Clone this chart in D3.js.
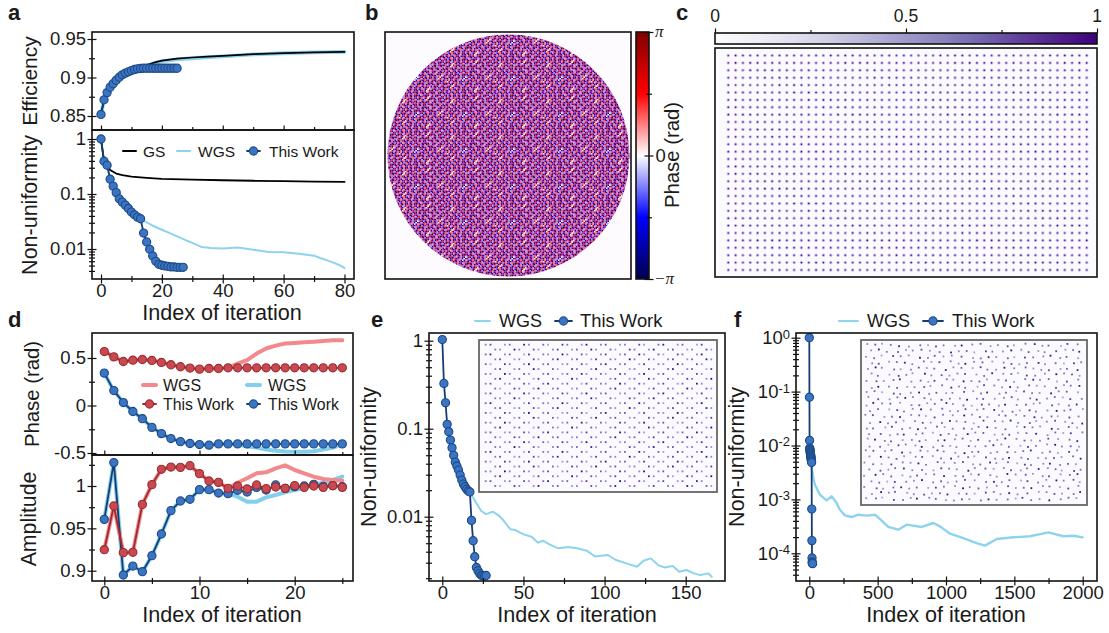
<!DOCTYPE html>
<html>
<head>
<meta charset="utf-8">
<script src="https://cdn.jsdelivr.net/npm/d3@7"></script>
<style>
  html, body { margin: 0; padding: 0; background: #fff; }
  svg { display: block; }
  text { font-family: "Liberation Sans", Arial, sans-serif; fill: #1a1a1a; }
</style>
</head>
<body>
<div id="chart"></div>
<script>
// ---- data ----
// a: efficiency
var aEffIter = [0,1,2,3,4,5,6,7,8,9,10,11,12,13,14,15,16,17,18,19,20,21,22,23,24,25];
var aEffWork = [0.852,0.871,0.8804,0.8874,0.892,0.8965,0.9004,0.9035,0.9057,0.9074,0.909,0.9104,0.9113,0.9117,0.912,0.912,0.912,0.912,0.912,0.912,0.912,0.912,0.912,0.912,0.912,0.912];
var aEffLongIter = [0,1,2,3,4,5,6,7,8,9,10,12,14,16,18,20,25,30,35,40,50,60,70,80];
var aEffGs = [0.852,0.871,0.8804,0.8874,0.892,0.8965,0.9004,0.9035,0.9057,0.9074,0.909,0.9122,0.9145,0.9175,0.92,0.922,0.9245,0.926,0.9272,0.9282,0.9304,0.9317,0.9326,0.9332];
var aEffWgs = [0.852,0.871,0.8804,0.8874,0.892,0.8965,0.9004,0.9035,0.9057,0.9074,0.909,0.9118,0.9138,0.9165,0.919,0.921,0.9235,0.925,0.9263,0.9275,0.93,0.9315,0.9326,0.9334];
// a: non-uniformity
var aNonIter = d3.range(28);
var aNonWork = [1,0.394,0.333,0.186,0.139,0.106,0.0817,0.0711,0.0628,0.0546,0.0469,0.0419,0.038,0.0355,0.0195,0.0134,0.00986,0.00746,0.00597,0.00527,0.00506,0.00492,0.00485,0.00472,0.00472,0.00465,0.00465,0.00465];
var aGsIter = [0,1,2,3,5,7,10,15,20,30,40,50,60,70,80];
var aGsVal = [1,0.394,0.333,0.274,0.235,0.22,0.207,0.196,0.188,0.183,0.178,0.174,0.171,0.168,0.166];
var aWgsIter = [0,1,2,3,4,5,6,7,8,9,10,11,12,13,15,17,20,23,25,28,30,33,36,40,45,50,55,60,65,70,72,75,78,80];
var aWgsVal = [1,0.394,0.333,0.186,0.139,0.106,0.0817,0.0711,0.0628,0.0546,0.0469,0.0419,0.038,0.0355,0.0304,0.0265,0.0224,0.019,0.017,0.0143,0.0129,0.0109,0.0104,0.0102,0.0106,0.0097,0.00883,0.0087,0.0082,0.00757,0.00687,0.00601,0.0052,0.00453];

// d: phase and amplitude, one value per iteration 0..25
var dIter = d3.range(26);
var dPhaseRedWork = [0.568,0.512,0.463,0.477,0.484,0.474,0.453,0.429,0.408,0.394,0.383,0.39,0.39,0.397,0.397,0.397,0.397,0.397,0.397,0.397,0.397,0.397,0.397,0.397,0.397,0.397];
var dPhaseRedWgs = [0.568,0.512,0.463,0.477,0.484,0.474,0.453,0.429,0.408,0.394,0.383,0.39,0.39,0.397,0.44,0.478,0.547,0.6,0.63,0.652,0.659,0.665,0.672,0.679,0.686,0.686];
var dPhaseBlueWork = [0.341,0.157,0.031,-0.063,-0.139,-0.23,-0.296,-0.348,-0.38,-0.4,-0.411,-0.418,-0.404,-0.404,-0.404,-0.404,-0.404,-0.404,-0.404,-0.404,-0.404,-0.404,-0.404,-0.404,-0.404,-0.404];
var dPhaseBlueWgs = [0.341,0.157,0.031,-0.063,-0.139,-0.23,-0.296,-0.348,-0.38,-0.4,-0.411,-0.418,-0.404,-0.404,-0.411,-0.429,-0.443,-0.463,-0.477,-0.484,-0.488,-0.488,-0.481,-0.463,-0.443,-0.408];
var dAmpBlueWork = [0.9606,1.0276,0.8949,0.9055,0.8988,0.9177,0.9433,0.9709,0.9823,0.9843,0.9957,0.9957,0.9917,0.9909,0.9949,0.9929,0.9984,0.9953,1.0012,0.9972,0.9992,1,1.002,0.9996,1.0004,0.9992];
var dAmpBlueWgs = [0.9606,1.0276,0.8949,0.9055,0.8988,0.9177,0.9433,0.9709,0.9823,0.9843,0.9957,0.9957,0.9917,0.9909,0.9874,0.9815,0.9815,0.9866,0.9894,0.9925,0.9953,0.998,1.0012,1.0039,1.0071,1.011];
var dAmpRedWork = [0.9248,0.9764,0.9213,0.9217,0.9783,1.0016,1.0197,1.0224,1.022,1.024,1.0146,1.0059,1.0043,0.9972,1,0.9965,1.0012,0.9969,0.9988,0.9972,1.0004,0.9984,1,0.9984,1.0004,0.9984];
var dAmpRedWgs = [0.9248,0.9764,0.9213,0.9217,0.9783,1.0016,1.0197,1.0224,1.022,1.024,1.0146,1.0059,1.0043,0.9972,1.0039,1.0091,1.015,1.0161,1.0209,1.0244,1.0189,1.015,1.011,1.0083,1.0071,1.0063];

// e
var eWorkIter = d3.range(28);
var eWork = [1.03,0.327,0.197,0.112,0.0925,0.0743,0.0608,0.0498,0.0418,0.0377,0.0339,0.0297,0.0261,0.0235,0.0219,0.0205,0.0196,0.0191,0.00908,0.00533,0.00351,0.00265,0.00243,0.00227,0.00217,0.00214,0.00212,0.00215];
var eWgsIter = [17,21,24,27,31,34.5,37.5,42,45,50,55,59,62,66,71.5,77.6,83,89,94,102,107,113.5,120,124,128.5,133,137,142,146,150.5,155,159,164,166];
var eWgs = [0.0191,0.0142,0.0116,0.0107,0.0114,0.01044,0.00916,0.00718,0.00705,0.0063,0.00593,0.00507,0.00533,0.00485,0.00437,0.00452,0.00437,0.00411,0.00354,0.00367,0.00322,0.00295,0.0027,0.00316,0.00336,0.00282,0.00265,0.00275,0.00237,0.00248,0.00227,0.00217,0.00227,0.00208];

// f
var fWorkIter = d3.range(25);
var fWork = [1,0.0785,0.0124,0.00893,0.00855,0.0082,0.00785,0.00753,0.00721,0.00691,0.00662,0.00634,0.00608,0.00582,0.00558,0.00535,0.00513,0.00484,0.000662,0.000172,0.000082,0.0000692,0.0000662,0.0000653,0.0000644];
var fWgsIter = [17,29,41,78,127,163,200,224,261,310,358,420,480,517,578,651,712,822,907,956,1029,1127,1224,1285,1371,1493,1615,1749,1859,1932,2000];
var fWgs = [0.00408,0.00248,0.00187,0.00122,0.000957,0.00114,0.000855,0.000644,0.000506,0.000471,0.00052,0.000499,0.00052,0.000432,0.000308,0.000274,0.00034,0.000308,0.000365,0.000316,0.000231,0.000192,0.000155,0.000139,0.000184,0.000198,0.000207,0.000245,0.000207,0.000212,0.000198];

// b: repeating tile of the phase mask, digit d stands for phase (d-4)/4*pi
var phaseTile = [
  "26352716 36252637 15263526 37251635",
  "63526253 52736152 62537162 52635261",
  "27153645 26362517 36152736 26173526",
  "52637462 73516263 52637243 61526372",
  "36254735 26152736 26351427 35261526",
  "62736152 63752652 73524253 62736153",
  "25163726 35473516 25162637 15263736",
  "73526251 62615263 63725361 72635262",
  "26371536 27352746 15362517 36251625",
  "52625372 53626452 72635263 52637352",
  "36152637 26174625 36152736 25162746",
  "62736251 63526372 52637152 73526453",
  "15263526 37251536 26352625 16374526",
  "72536172 52636263 71526173 62615362",
  "26352637 15273516 36253625 37251736",
  "63716253 62526372 52637162 53626253",
  "25263516 37361526 36152736 26371546",
  "62537262 51625373 62736251 63526472",
  "36152635 27362546 25163526 37254716",
  "52736271 63526473 62637153 52636253",
  "26153625 36174536 15263736 26172635",
  "73626352 52636152 73526251 63725261",
  "25371526 26253726 36152637 15263536",
  "62635263 73615362 52736263 52617253"
].map(function(r) { return r.replace(/ /g, ""); });

// c, e, f: relative spot intensity, repeats over the spots
var spotLevels = [0.62,0.8,0.55,0.7,0.95,0.6,0.72,0.5,0.85,0.66,0.58,1,0.63,0.76,0.54];
var cRows = d3.range(30), cCols = d3.range(50);
var eRows = d3.range(30), eCols = d3.range(12);
var fRows = d3.range(27), fCols = d3.range(25);
// f: spots are displaced from a lattice, offsets in lattice units
var fShiftX = [0.3,-0.2,0.42,-0.35,0.1,0.25,-0.45,0.05,-0.15,0.38,-0.3,0.18,-0.05,0.45,-0.25,0.33,-0.4,0.12,0.22,-0.1,-0.36,0.4,0.02,-0.22,0.28,-0.44,0.15,0.35,-0.08,-0.32,0.2];
var fShiftY = [-0.3,0.25,0.05,-0.42,0.35,-0.12,0.18,0.44,-0.25,0.02,-0.38,0.3,0.12,-0.18,0.4,-0.05,-0.33,0.22,-0.45,0.08,0.36,-0.22,0.15,0.28,-0.4,0.48,-0.02,-0.15,0.32,-0.28,0.1,0.42,-0.36];

// tick labels and ticks
var aEffTicks = [0.85,0.9,0.95], aEffMinor = [0.875,0.925];
var aXTicks = [0,20,40,60,80], aXMinor = [10,30,50,70];
var dXTicks = [0,10,20], dXMinor = [5,15,25];
var dPhaseTicks = [-0.5,0,0.5], dPhaseMinor = [-0.25,0.25];
var dAmpTicks = [0.9,0.95,1], dAmpMinor = [0.925,0.975,1.025];
var eXTicks = [0,50,100,150], eXMinor = [25,75,125];
var fXTicks = [0,500,1000,1500,2000], fXMinor = [250,750,1250,1750];

// ---- colours ----
var cWgs = "#8dd3ee", cWgsThick = "#83cfeb", cRedWgs = "#f28a8d";
var cBlue = "#3a74c2", cBlueEdge = "#1d4a87", cBlueLine = "#163d73";
var cRed = "#c8494f", cRedEdge = "#9c2c32";
var seismic = d3.scaleLinear()
  .domain([-1, -0.5, 0, 0.5, 1])
  .range(["#00004d", "#0000ff", "#ffffff", "#ff0000", "#800000"]);
var purples = d3.scaleSequential(d3.interpolatePurples).domain([0, 1]);
var spotColor = d3.scaleLinear().domain([0.5, 1]).range(["#b797e0", "#3a0a80"]);

var svg = d3.select("#chart").append("svg")
  .attr("width", 1109).attr("height", 633);
var defs = svg.append("defs");

// ---- helpers ----
function frame(x0, y0, x1, y1, stroke, w) {
  svg.append("rect")
    .attr("x", x0).attr("y", y0).attr("width", x1 - x0).attr("height", y1 - y0)
    .attr("fill", "none").attr("stroke", stroke || "#111").attr("stroke-width", w || 1.6);
}

// ticks cross the frame line by half on each side unless only inward
function ticks(kind, pos, scale, major, minor, fmt, opts) {
  opts = opts || {};
  var make = kind == "left" ? d3.axisLeft : d3.axisBottom;
  var t = kind == "left" ? "translate(" + pos + ",0)" : "translate(0," + pos + ")";
  var gMinor = svg.append("g").attr("transform", t)
    .call(make(scale).tickValues(minor).tickSize(3).tickFormat(""));
  var gMajor = svg.append("g").attr("transform", t)
    .call(make(scale).tickValues(major).tickSize(4.5).tickPadding(kind == "left" ? 1.5 : 0).tickFormat(fmt || ""));
  [gMinor, gMajor].forEach(function(g) {
    g.select(".domain").remove();
    g.selectAll("line").attr("stroke", "#111").attr("stroke-width", 1.2);
    g.selectAll("line").each(function() {
      var l = d3.select(this), a = kind == "left" ? "x" : "y";
      var len = Math.abs(+l.attr(a + "2"));
      if (opts.up) l.attr(a + "1", 0).attr(a + "2", -len);
      else l.attr(a + "1", -len).attr(a + "2", len);
    });
    g.selectAll("text").style("font-size", "18.5px")
      .style("font-family", '"Liberation Sans", Arial, sans-serif').attr("fill", "#1a1a1a");
  });
  return gMajor;
}

function logMinor(lo, hi) {
  var out = [];
  for (var e = lo; e < hi; e++) {
    [2,3,4,5,6,7,8,9].forEach(function(k) { out.push(k * Math.pow(10, e)); });
  }
  return out;
}

function label(str, x, y, size, anchor, weight) {
  return svg.append("text").attr("x", x).attr("y", y)
    .attr("text-anchor", anchor || "start")
    .attr("font-size", size).attr("font-weight", weight || "normal").text(str);
}
function yLabel(str, x, y, size) {
  return svg.append("text")
    .attr("transform", "translate(" + x + "," + y + ") rotate(-90)")
    .attr("text-anchor", "middle").attr("font-size", size || 21.5).text(str);
}

function curve(xs, ys, x, y, color, width) {
  var line = d3.line().x(function(d) { return x(d[0]); }).y(function(d) { return y(d[1]); });
  svg.append("path").datum(d3.zip(xs, ys)).attr("d", line)
    .attr("fill", "none").attr("stroke", color).attr("stroke-width", width)
    .attr("stroke-linejoin", "round").attr("stroke-linecap", "round");
}
function dots(xs, ys, x, y, fill, edge, r) {
  svg.append("g").selectAll("circle").data(d3.zip(xs, ys)).enter().append("circle")
    .attr("cx", function(d) { return x(d[0]); })
    .attr("cy", function(d) { return y(d[1]); })
    .attr("r", r || 4.1)
    .attr("fill", fill).attr("stroke", edge).attr("stroke-width", 1.1);
}

function legendLine(x0, x1, y0, color, width) {
  svg.append("line").attr("x1", x0).attr("x2", x1).attr("y1", y0).attr("y2", y0)
    .attr("stroke", color).attr("stroke-width", width).attr("stroke-linecap", "round");
}
function legendDot(x0, x1, y0, lineColor, fill, edge) {
  legendLine(x0, x1, y0, lineColor, 1.8);
  svg.append("circle").attr("cx", (x0 + x1) / 2).attr("cy", y0).attr("r", 4.1)
    .attr("fill", fill).attr("stroke", edge).attr("stroke-width", 1.1);
}

// ---- panel a ----
var aX = d3.scaleLinear().domain([0, 80]).range([101, 344.5]);
var aY1 = d3.scaleLinear().domain([0.85, 0.95]).range([116, 39]);
var aY2 = d3.scaleLog().domain([0.01, 1]).range([249, 139]);

curve(aEffLongIter, aEffWgs, aX, aY1, cWgs, 3.8);
curve(aEffLongIter, aEffGs, aX, aY1, "#000", 1.7);
curve(aEffIter, aEffWork, aX, aY1, cBlueLine, 1.8);
dots(aEffIter, aEffWork, aX, aY1, cBlue, cBlueEdge);

curve(aWgsIter, aWgsVal, aX, aY2, cWgs, 2);
curve(aGsIter, aGsVal, aX, aY2, "#000", 1.8);
curve(aNonIter, aNonWork, aX, aY2, cBlueLine, 1.8);
dots(aNonIter, aNonWork, aX, aY2, cBlue, cBlueEdge);

frame(92, 32, 354, 130);
frame(92, 130, 354, 279);
ticks("left", 92, aY1, aEffTicks, aEffMinor, function(d) { return d == 0.9 ? "0.9" : d; });
ticks("bottom", 130, aX, aXTicks, aXMinor, null, {up: true});
ticks("left", 92, aY2, [0.01, 0.1, 1], logMinor(-3, 0).filter(function(d) { return d >= 0.0031; }), function(d) { return d; });
ticks("bottom", 279, aX, aXTicks, aXMinor, function(d) { return d; });

yLabel("Efficiency", 37, 81, 21);
yLabel("Non-uniformity", 37, 205);
label("Index of iteration", 222, 320.3, 21.6, "middle");

legendLine(123, 136, 151, "#000", 2);
label("GS", 143, 157, 15.5);
legendLine(177, 190, 151, cWgs, 2);
label("WGS", 198, 157, 15.5);
legendDot(247, 260, 151, cBlueLine, cBlue, cBlueEdge);
label("This Work", 269, 157, 15.5);

// ---- panel b ----
var tileW = phaseTile[0].length, tileH = phaseTile.length, cell = 1.5;
var phaseCells = [];
phaseTile.forEach(function(row, j) {
  row.split("").forEach(function(ch, i) { phaseCells.push({i: i, j: j, v: (+ch - 4) / 4}); });
});
var tile = defs.append("pattern").attr("id", "phaseMask")
  .attr("patternUnits", "userSpaceOnUse")
  .attr("width", tileW * cell).attr("height", tileH * cell);
tile.selectAll("rect").data(phaseCells).enter().append("rect")
  .attr("x", function(d) { return d.i * cell; })
  .attr("y", function(d) { return d.j * cell; })
  .attr("width", cell).attr("height", cell)
  .attr("fill", function(d) { return seismic(d.v); });
// the mask in the picture is slightly soft from downscaling
defs.append("filter").attr("id", "soft")
  .append("feGaussianBlur").attr("stdDeviation", 0.35);

svg.append("rect").attr("x", 385).attr("y", 32).attr("width", 246).attr("height", 247).attr("fill", "#fdfbfe");
svg.append("circle").attr("cx", 508.5).attr("cy", 155.5).attr("r", 121)
  .attr("fill", "url(#phaseMask)").attr("filter", "url(#soft)");
frame(385, 32, 631, 279);

var cbarB = defs.append("linearGradient").attr("id", "cbarB")
  .attr("x1", 0).attr("x2", 0).attr("y1", 1).attr("y2", 0);
d3.range(-1, 1.01, 0.25).forEach(function(v) {
  cbarB.append("stop").attr("offset", (v + 1) / 2).attr("stop-color", seismic(v));
});
svg.append("rect").attr("x", 636).attr("y", 32).attr("width", 13).attr("height", 247).attr("fill", "url(#cbarB)");
frame(636, 32, 649, 279);
var bY = d3.scaleLinear().domain([-1, 1]).range([279, 32]);
ticks("left", 649, bY, [-1, 0, 1], [-0.5, 0.5], null);
label("π", 655, 37, 17).style("font-family", "Liberation Serif").attr("font-style", "italic");
label("−π", 654, 284, 17).style("font-family", "Liberation Serif").attr("font-style", "italic");
label("0", 655.5, 162, 18.5);
yLabel("Phase (rad)", 679, 155, 20.3);

// ---- panel c ----
var cbarC = defs.append("linearGradient").attr("id", "cbarC");
d3.range(0, 1.01, 0.1).forEach(function(v) {
  cbarC.append("stop").attr("offset", v).attr("stop-color", purples(v));
});
svg.append("rect").attr("x", 715).attr("y", 33).attr("width", 382).attr("height", 11).attr("fill", "url(#cbarC)");
frame(715, 33, 1097, 44);
var cAx = d3.scaleLinear().domain([0, 1]).range([715, 1097]);
ticks("bottom", 33, cAx, [0, 0.5, 1], [0.25, 0.75], null, {up: true});
[0, 0.5, 1].forEach(function(v) { label(v, cAx(v), 22, 17.5, "middle"); });

svg.append("rect").attr("x", 715).attr("y", 48).attr("width", 382).attr("height", 229).attr("fill", "#fbfaff");
var cXs = d3.scaleLinear().domain([0, 49]).range([728.3, 1086.7]);
var cYs = d3.scaleLinear().domain([0, 29]).range([55.5, 270]);
var cSpots = d3.cross(cRows, cCols);
function spotLevel(d) { return spotLevels[(d[0] * 7 + d[1] * 4) % spotLevels.length]; }
svg.append("g").selectAll("circle").data(cSpots).enter().append("circle")
  .attr("cx", function(d) { return cXs(d[1]); })
  .attr("cy", function(d) { return cYs(d[0]); })
  .attr("r", 1.7)
  .attr("fill", "#c4a8e8").attr("opacity", 0.85);
svg.append("g").selectAll("circle").data(cSpots).enter().append("circle")
  .attr("cx", function(d) { return cXs(d[1]); })
  .attr("cy", function(d) { return cYs(d[0]); })
  .attr("r", 0.8)
  .attr("fill", function(d) { return spotColor(0.6 + 0.4 * spotLevel(d)); });
frame(715, 48, 1097, 277);

// ---- panel d ----
var dX = d3.scaleLinear().domain([0, 25]).range([104.3, 342.3]);
var dY1 = d3.scaleLinear().domain([-0.5, 0.5]).range([453, 358]);
var dY2 = d3.scaleLinear().domain([0.9, 1]).range([570.7, 486]);

curve(dIter, dPhaseRedWgs, dX, dY1, cRedWgs, 4);
curve(dIter, dPhaseBlueWgs, dX, dY1, cWgsThick, 4);
curve(dIter, dPhaseBlueWork, dX, dY1, cBlueLine, 1.8);
dots(dIter, dPhaseBlueWork, dX, dY1, cBlue, cBlueEdge);
curve(dIter, dPhaseRedWork, dX, dY1, cRedEdge, 1.8);
dots(dIter, dPhaseRedWork, dX, dY1, cRed, cRedEdge);

curve(dIter, dAmpBlueWgs, dX, dY2, cWgsThick, 4);
curve(dIter, dAmpRedWgs, dX, dY2, cRedWgs, 4);
curve(dIter, dAmpBlueWork, dX, dY2, cBlueLine, 1.8);
dots(dIter, dAmpBlueWork, dX, dY2, cBlue, cBlueEdge);
curve(dIter, dAmpRedWork, dX, dY2, cRedEdge, 1.8);
dots(dIter, dAmpRedWork, dX, dY2, cRed, cRedEdge);

frame(92, 333, 353, 455);
frame(92, 455, 353, 581);
ticks("left", 92, dY1, dPhaseTicks, dPhaseMinor, function(d) { return d; });
ticks("bottom", 455, dX, dXTicks, dXMinor, null, {up: true});
ticks("left", 92, dY2, dAmpTicks, dAmpMinor, function(d) { return d; });
ticks("bottom", 581, dX, dXTicks, dXMinor, function(d) { return d; });

yLabel("Phase (rad)", 39, 394, 20.3);
yLabel("Amplitude", 36, 519, 21.3);
label("Index of iteration", 222, 622.3, 21.6, "middle");

legendLine(143, 156, 385, cRedWgs, 4);
label("WGS", 163, 391, 16);
legendLine(247, 260, 385, cWgsThick, 4);
label("WGS", 268, 391, 16);
legendDot(143, 156, 404, cRedEdge, cRed, cRedEdge);
label("This Work", 163, 410, 15.8);
legendDot(247, 260, 404, cBlueLine, cBlue, cBlueEdge);
label("This Work", 268, 410, 15.8);

// ---- panel e ----
var eX = d3.scaleLinear().domain([0, 150]).range([442.3, 685.7]);
var eY = d3.scaleLog().domain([0.01, 1]).range([516.7, 340.7]);

curve(eWgsIter, eWgs, eX, eY, cWgs, 2);
curve(eWorkIter, eWork, eX, eY, cBlueLine, 1.8);
dots(eWorkIter, eWork, eX, eY, cBlue, cBlueEdge);

frame(429, 333, 725, 581);
ticks("left", 429, eY, [0.01, 0.1, 1], logMinor(-3, 0).filter(function(d) { return d >= 0.002; }), function(d) { return d; });
ticks("bottom", 581, eX, eXTicks, eXMinor, function(d) { return d; });
yLabel("Non-uniformity", 376, 457);
label("Index of iteration", 577, 622.3, 21.6, "middle");

// inset e: honeycomb spots
svg.append("rect").attr("x", 479).attr("y", 340).attr("width", 238).attr("height", 152).attr("fill", "#fbfaff");
var eSpotX = d3.scaleLinear().domain([0, 12]).range([485.7, 716.1]);
var eSpotY = d3.scaleLinear().domain([0, 29]).range([344.7, 486]);
var eSpots = [];
d3.cross(eRows, eCols).forEach(function(d) {
  // pair of spots in every cell, odd rows move half a cell
  [0, 0.25].forEach(function(p) { eSpots.push([d[0], d[1] + p + (d[0] % 2) * 0.5]); });
});
svg.append("g").selectAll("rect").data(eSpots.filter(function(d) { return eSpotX(d[1]) < 714; })).enter().append("rect")
  .attr("x", function(d) { return eSpotX(d[1]) - 0.9; })
  .attr("y", function(d) { return eSpotY(d[0]) - 0.9; })
  .attr("width", 1.8).attr("height", 1.8)
  .attr("fill", function(d, i) { return spotColor(spotLevels[i % spotLevels.length]); });
frame(479, 340, 717, 492, "#666", 1.8);

legendLine(475, 490, 321, cWgs, 2);
label("WGS", 499, 327, 18);
legendDot(555, 572, 321, cBlueLine, cBlue, cBlueEdge);
label("This Work", 580, 327, 18.4);

// ---- panel f ----
var fX = d3.scaleLinear().domain([0, 2000]).range([809.3, 1082.7]);
var fY = d3.scaleLog().domain([0.0001, 1]).range([553.3, 337.7]);

curve(fWgsIter, fWgs, fX, fY, cWgs, 2.4);
curve(fWorkIter, fWork, fX, fY, cBlueLine, 1.8);
dots(fWorkIter, fWork, fX, fY, cBlue, cBlueEdge);

frame(796, 333, 1097, 581);
var fLeft = ticks("left", 796, fY, [0.0001, 0.001, 0.01, 0.1, 1],
  logMinor(-5, 0).filter(function(d) { return d >= 0.00004; }), function() { return "10"; });
fLeft.selectAll("text").each(function(d) {
  d3.select(this).append("tspan")
    .attr("dy", "-0.42em").style("font-size", "13px")
    .text(String(Math.round(Math.log10(d))));
});
ticks("bottom", 581, fX, fXTicks, fXMinor, function(d) { return d; });
yLabel("Non-uniformity", 744, 457);
label("Index of iteration", 946, 622.3, 21.6, "middle");

// inset f: disordered spots
svg.append("rect").attr("x", 861).attr("y", 340).attr("width", 226).attr("height", 165).attr("fill", "#fbfaff");
var fSpotX = d3.scaleLinear().domain([0, 24.5]).range([866, 1081]);
var fSpotY = d3.scaleLinear().domain([0, 26]).range([345, 499]);
var fSpots = d3.cross(fRows, fCols);
svg.append("g").selectAll("rect").data(fSpots).enter().append("rect")
  .attr("x", function(d) {
    return fSpotX(d[1] + (d[0] % 2) * 0.5 + fShiftX[(d[0] * 11 + d[1] * 17) % fShiftX.length] * 0.5) - 0.9;
  })
  .attr("y", function(d) {
    return fSpotY(d[0] + fShiftY[(d[0] * 13 + d[1] * 5) % fShiftY.length] * 0.55) - 0.9;
  })
  .attr("width", 1.8).attr("height", 1.8)
  .attr("fill", function(d, i) { return spotColor(spotLevels[i % spotLevels.length]); });
frame(861, 340, 1087, 505, "#666", 1.8);

legendLine(839, 858, 321, cWgs, 2);
label("WGS", 867, 327, 18);
legendDot(923, 943, 321, cBlueLine, cBlue, cBlueEdge);
label("This Work", 952, 327, 18.4);

// ---- panel letters ----
[["a", 8, 20], ["b", 365, 20], ["c", 676, 20], ["d", 8, 327], ["e", 371, 327], ["f", 734, 327]].forEach(function(p) {
  label(p[0], p[1], p[2], 22, "start", "bold").attr("fill", "#000");
});
</script>
</body>
</html>
